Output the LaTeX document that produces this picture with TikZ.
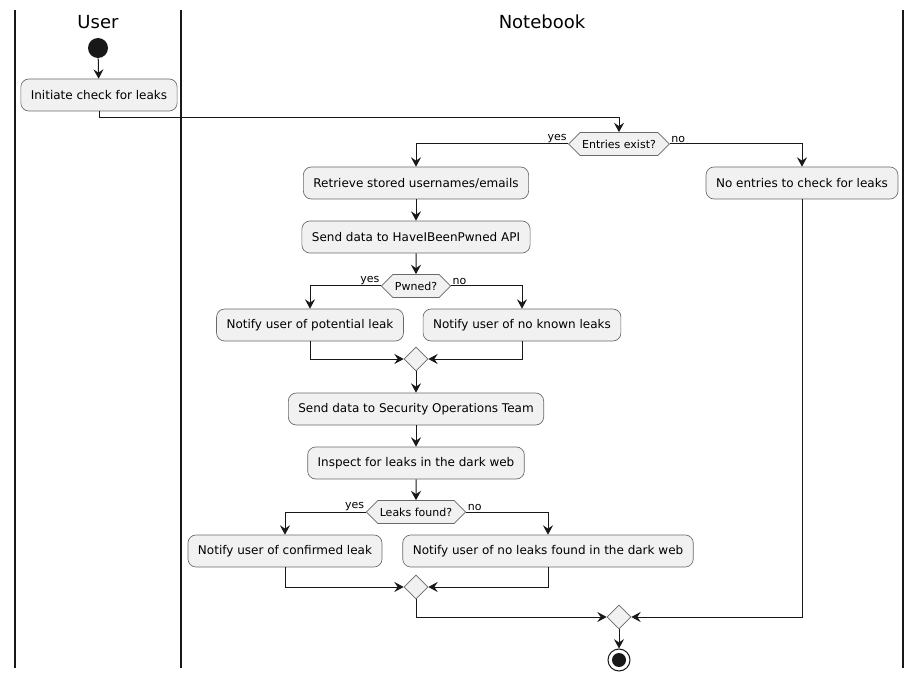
\documentclass[tikz,border=0pt]{standalone}
\usepackage{fontspec}
\setmainfont{DejaVu Sans}
\usetikzlibrary{arrows.meta,shapes.geometric,shapes.symbols,positioning}

\definecolor{actfill}{HTML}{F1F1F1}
\definecolor{actline}{HTML}{181818}

\begin{document}
\begin{tikzpicture}[x=0.75pt,y=-0.75pt,
	action/.style={draw=actline!65, line width=0.5pt, fill=actfill, rounded corners=6pt,
		minimum height=24pt, inner xsep=7.5pt, inner ysep=0pt, font=\fontsize{9}{11}\selectfont},
	choice/.style={draw=actline!65, line width=0.5pt, fill=actfill, signal, signal to=west and east,
		minimum height=17.25pt, inner xsep=1.5pt, inner ysep=0pt, font=\fontsize{8.25}{10}\selectfont},
	merge/.style={draw=actline!65, line width=0.5pt, fill=actfill, diamond, minimum size=18pt, inner sep=0pt},
	branchlbl/.style={inner sep=1pt, font=\fontsize{8.25}{10}\selectfont},
	lanetitle/.style={font=\fontsize{13.5}{16}\selectfont},
	lane/.style={line width=1.1pt, draw=actline},
	flow/.style={draw=actline, line width=0.75pt, -{Stealth[length=7pt,width=7.5pt,inset=2.5pt]}}]
	\useasboundingbox[fill=white] (0,0) rectangle (922,681);
	
	% Swimlanes
	\draw[lane] (15,10) -- (15,668);
	\draw[lane] (181,10) -- (181,668);
	\draw[lane] (903,10) -- (903,668);
	\node[lanetitle] (usertitle) at (98,22) {User};
	\node[lanetitle] (notetitle) at (542,22) {Notebook};
	
	% User lane
	\node[circle, fill=actline, minimum size=15pt, inner sep=0pt] (start) at (98,48) {};
	\node[action] (init) at (99,95) {Initiate check for leaks};
	
	% Notebook lane
	\node[choice] (ent) at (619,144) {Entries exist?};
	\node[action] (ret) at (416,183) {Retrieve stored usernames/emails};
	\node[action] (none) at (802,183) {No entries to check for leaks};
	\node[action] (send) at (416,237) {Send data to HaveIBeenPwned API};
	\node[choice] (pwn) at (416,286) {Pwned?};
	\node[action] (pot) at (310,325) {Notify user of potential leak};
	\node[action] (nokn) at (522,325) {Notify user of no known leaks};
	\node[merge] (m1) at (416,359) {};
	\node[action] (soc) at (416,409) {Send data to Security Operations Team};
	\node[action] (dark) at (416,463) {Inspect for leaks in the dark web};
	\node[choice] (found) at (416,512) {Leaks found?};
	\node[action] (conf) at (285,551) {Notify user of confirmed leak};
	\node[action] (nodark) at (548,551) {Notify user of no leaks found in the dark web};
	\node[merge] (m2) at (416,587) {};
	\node[merge] (m3) at (619,617) {};
	\node[circle, draw=actline, line width=0.75pt, fill=white, minimum size=16.5pt, inner sep=0pt] (stop) at (619,660) {};
	\fill[actline] (stop) circle[radius=7];
	
	% Branch labels
	\node[branchlbl, anchor=south east] (entyes) at (ent.west) {yes};
	\node[branchlbl, anchor=south west] (entno) at (ent.east) {no};
	\node[branchlbl, anchor=south east] (pwnyes) at (pwn.west) {yes};
	\node[branchlbl, anchor=south west] (pwnno) at (pwn.east) {no};
	\node[branchlbl, anchor=south east] (foundyes) at (found.west) {yes};
	\node[branchlbl, anchor=south west] (foundno) at (found.east) {no};
	
	% Flow
	\draw[flow] (start) -- (init);
	\draw[flow] (init.south) -- ++(0,6) -| (ent.north);
	\draw[flow] (ent.west) -| (ret.north);
	\draw[flow] (ent.east) -| (none.north);
	\draw[flow] (ret) -- (send);
	\draw[flow] (send) -- (pwn);
	\draw[flow] (pwn.west) -| (pot.north);
	\draw[flow] (pwn.east) -| (nokn.north);
	\draw[flow] (pot.south) |- (m1.west);
	\draw[flow] (nokn.south) |- (m1.east);
	\draw[flow] (m1) -- (soc);
	\draw[flow] (soc) -- (dark);
	\draw[flow] (dark) -- (found);
	\draw[flow] (found.west) -| (conf.north);
	\draw[flow] (found.east) -| (nodark.north);
	\draw[flow] (conf.south) |- (m2.west);
	\draw[flow] (nodark.south) |- (m2.east);
	\draw[flow] (m2.south) |- (m3.west);
	\draw[flow] (none.south) |- (m3.east);
	\draw[flow] (m3) -- (stop);
\end{tikzpicture}
\end{document}
